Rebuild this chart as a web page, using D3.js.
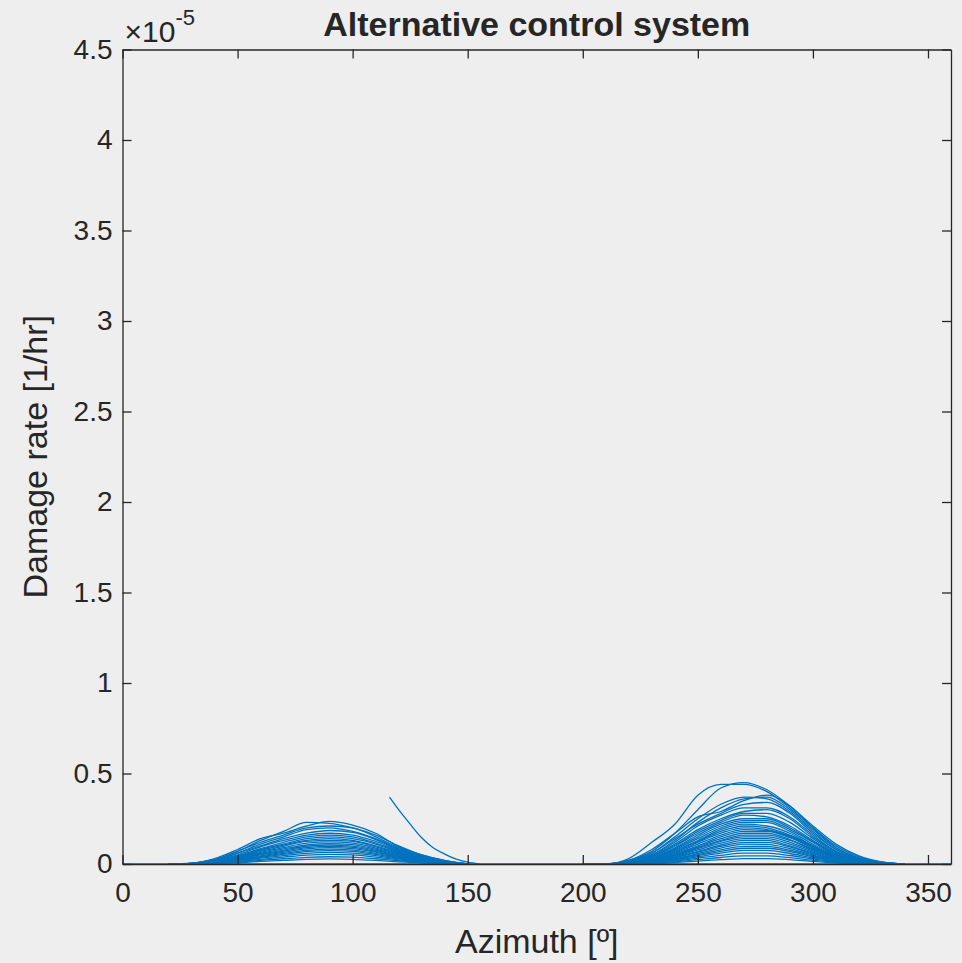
<!DOCTYPE html>
<html>
<head>
<meta charset="utf-8">
<script src="https://cdn.jsdelivr.net/npm/d3@7"></script>
<style>
  html, body { margin: 0; padding: 0; background: #eeeeee; }
  svg { display: block; }
  text { font-family: "Liberation Sans", Arial, sans-serif; fill: #262626; }
</style>
</head>
<body>
<div id="chart"></div>
<script>
// damage rate values are in units of 1e-5 [1/hr]
var xTicks = [0, 50, 100, 150, 200, 250, 300, 350];
var yTicks = [0, 0.5, 1, 1.5, 2, 2.5, 3, 3.5, 4, 4.5];

var zeroAz = [0, 360];
var zeroVal = [0, 0];

var leftAz = [20, 30, 40, 50, 60, 70, 80, 90, 100, 110, 120, 130, 140, 150];
var leftCurves = [
    [0, 0.004, 0.025, 0.07, 0.13, 0.18, 0.23, 0.225, 0.20, 0.16, 0.10, 0.05, 0.018, 0],
    [0, 0.005, 0.03, 0.08, 0.14, 0.17, 0.21, 0.235, 0.215, 0.17, 0.095, 0.05, 0.02, 0],
    [0, 0.004, 0.025, 0.07, 0.12, 0.16, 0.20, 0.21, 0.20, 0.15, 0.09, 0.045, 0.017, 0],
    [0, 0.003, 0.02, 0.06, 0.11, 0.15, 0.19, 0.20, 0.18, 0.14, 0.085, 0.042, 0.016, 0],
    [0, 0.003, 0.02, 0.06, 0.10, 0.14, 0.17, 0.185, 0.175, 0.135, 0.08, 0.04, 0.015, 0],
    [0, 0.003, 0.018, 0.05, 0.095, 0.13, 0.16, 0.17, 0.16, 0.125, 0.075, 0.037, 0.014, 0],
    [0, 0.002, 0.016, 0.045, 0.085, 0.12, 0.15, 0.16, 0.15, 0.115, 0.07, 0.034, 0.013, 0],
    [0, 0.002, 0.015, 0.04, 0.08, 0.11, 0.14, 0.15, 0.14, 0.11, 0.066, 0.032, 0.012, 0],
    [0, 0.002, 0.014, 0.04, 0.075, 0.105, 0.13, 0.14, 0.13, 0.10, 0.062, 0.03, 0.011, 0],
    [0, 0.002, 0.012, 0.036, 0.07, 0.098, 0.125, 0.13, 0.125, 0.095, 0.058, 0.028, 0.01, 0],
    [0, 0.002, 0.011, 0.033, 0.064, 0.09, 0.115, 0.122, 0.115, 0.088, 0.054, 0.026, 0.01, 0],
    [0, 0.001, 0.01, 0.03, 0.058, 0.083, 0.105, 0.113, 0.107, 0.082, 0.05, 0.024, 0.009, 0],
    [0, 0.001, 0.009, 0.028, 0.054, 0.077, 0.098, 0.105, 0.099, 0.076, 0.046, 0.022, 0.008, 0],
    [0, 0.001, 0.008, 0.025, 0.05, 0.071, 0.09, 0.097, 0.092, 0.07, 0.042, 0.02, 0.008, 0],
    [0, 0.001, 0.008, 0.023, 0.045, 0.065, 0.083, 0.09, 0.085, 0.065, 0.039, 0.019, 0.007, 0],
    [0, 0.001, 0.007, 0.021, 0.041, 0.059, 0.075, 0.082, 0.077, 0.059, 0.036, 0.017, 0.006, 0],
    [0, 0.001, 0.006, 0.019, 0.037, 0.053, 0.068, 0.074, 0.07, 0.053, 0.032, 0.015, 0.006, 0],
    [0, 0.001, 0.005, 0.016, 0.032, 0.046, 0.059, 0.064, 0.06, 0.046, 0.028, 0.013, 0.005, 0],
    [0, 0.001, 0.004, 0.013, 0.026, 0.038, 0.049, 0.053, 0.05, 0.038, 0.023, 0.011, 0.004, 0],
    [0, 0, 0.003, 0.01, 0.02, 0.029, 0.037, 0.04, 0.038, 0.029, 0.018, 0.008, 0.003, 0],
    [0, 0, 0.002, 0.007, 0.014, 0.02, 0.026, 0.028, 0.026, 0.02, 0.012, 0.006, 0.002, 0]
];

var tailAz = [116, 120, 125, 130, 135, 140, 145, 150, 155];
var tailVal = [0.37, 0.30, 0.22, 0.145, 0.09, 0.055, 0.027, 0.01, 0];

var rightAz = [200, 210, 220, 230, 240, 250, 260, 270, 280, 290, 300, 310, 320, 330, 340];
var rightCurves = [
    [0, 0, 0.03, 0.12, 0.22, 0.38, 0.44, 0.44, 0.40, 0.31, 0.20, 0.10, 0.04, 0.01, 0],
    [0, 0, 0.02, 0.07, 0.17, 0.30, 0.42, 0.45, 0.41, 0.32, 0.21, 0.11, 0.045, 0.012, 0],
    [0, 0, 0.02, 0.08, 0.17, 0.26, 0.29, 0.35, 0.38, 0.32, 0.20, 0.09, 0.035, 0.01, 0],
    [0, 0, 0.015, 0.06, 0.15, 0.25, 0.33, 0.37, 0.36, 0.29, 0.18, 0.08, 0.03, 0.008, 0],
    [0, 0, 0.01, 0.05, 0.13, 0.23, 0.31, 0.36, 0.37, 0.30, 0.19, 0.09, 0.03, 0.008, 0],
    [0, 0, 0.015, 0.06, 0.14, 0.22, 0.28, 0.33, 0.34, 0.28, 0.17, 0.08, 0.03, 0.007, 0],
    [0, 0, 0.01, 0.05, 0.12, 0.21, 0.27, 0.31, 0.31, 0.26, 0.16, 0.07, 0.025, 0.006, 0],
    [0, 0, 0.01, 0.045, 0.11, 0.19, 0.25, 0.29, 0.30, 0.25, 0.15, 0.07, 0.025, 0.006, 0],
    [0, 0, 0.01, 0.04, 0.10, 0.18, 0.24, 0.28, 0.28, 0.23, 0.14, 0.065, 0.022, 0.005, 0],
    [0, 0, 0.008, 0.04, 0.10, 0.17, 0.23, 0.27, 0.26, 0.21, 0.13, 0.06, 0.02, 0.005, 0],
    [0, 0, 0.008, 0.035, 0.09, 0.16, 0.22, 0.25, 0.25, 0.20, 0.125, 0.055, 0.02, 0.005, 0],
    [0, 0, 0.007, 0.03, 0.085, 0.15, 0.21, 0.24, 0.24, 0.19, 0.12, 0.05, 0.018, 0.004, 0],
    [0, 0, 0.007, 0.03, 0.08, 0.14, 0.20, 0.23, 0.23, 0.18, 0.11, 0.05, 0.017, 0.004, 0],
    [0, 0, 0.006, 0.028, 0.075, 0.13, 0.19, 0.22, 0.21, 0.17, 0.10, 0.045, 0.016, 0.004, 0],
    [0, 0, 0.006, 0.026, 0.07, 0.125, 0.18, 0.21, 0.20, 0.16, 0.10, 0.045, 0.015, 0.004, 0],
    [0, 0, 0.005, 0.024, 0.065, 0.12, 0.17, 0.20, 0.19, 0.155, 0.095, 0.04, 0.014, 0.003, 0],
    [0, 0, 0.005, 0.022, 0.06, 0.11, 0.16, 0.19, 0.185, 0.15, 0.09, 0.04, 0.013, 0.003, 0],
    [0, 0, 0.005, 0.02, 0.055, 0.10, 0.15, 0.18, 0.18, 0.145, 0.088, 0.038, 0.012, 0.003, 0],
    [0, 0, 0.004, 0.02, 0.05, 0.095, 0.14, 0.17, 0.17, 0.135, 0.082, 0.035, 0.012, 0.003, 0],
    [0, 0, 0.004, 0.018, 0.048, 0.09, 0.13, 0.16, 0.16, 0.13, 0.078, 0.034, 0.011, 0.003, 0],
    [0, 0, 0.004, 0.017, 0.045, 0.085, 0.125, 0.15, 0.15, 0.12, 0.072, 0.031, 0.01, 0.002, 0],
    [0, 0, 0.003, 0.015, 0.04, 0.078, 0.115, 0.14, 0.14, 0.11, 0.066, 0.028, 0.009, 0.002, 0],
    [0, 0, 0.003, 0.014, 0.037, 0.07, 0.105, 0.13, 0.13, 0.10, 0.06, 0.026, 0.008, 0.002, 0],
    [0, 0, 0.003, 0.013, 0.034, 0.065, 0.097, 0.12, 0.12, 0.094, 0.056, 0.024, 0.008, 0.002, 0],
    [0, 0, 0.002, 0.011, 0.03, 0.058, 0.088, 0.11, 0.108, 0.085, 0.05, 0.021, 0.007, 0.002, 0],
    [0, 0, 0.002, 0.01, 0.027, 0.052, 0.078, 0.097, 0.097, 0.076, 0.045, 0.019, 0.006, 0.001, 0],
    [0, 0, 0.002, 0.009, 0.024, 0.046, 0.07, 0.087, 0.087, 0.068, 0.04, 0.017, 0.005, 0.001, 0],
    [0, 0, 0.002, 0.008, 0.02, 0.04, 0.06, 0.075, 0.075, 0.058, 0.034, 0.014, 0.005, 0.001, 0],
    [0, 0, 0.001, 0.006, 0.016, 0.032, 0.048, 0.06, 0.06, 0.047, 0.028, 0.012, 0.004, 0.001, 0],
    [0, 0, 0.001, 0.005, 0.012, 0.024, 0.036, 0.045, 0.045, 0.035, 0.021, 0.009, 0.003, 0.001, 0],
    [0, 0, 0.001, 0.003, 0.008, 0.016, 0.024, 0.03, 0.03, 0.024, 0.014, 0.006, 0.002, 0, 0]
];

var W = 962, H = 963;
var plotLeft = 122.5, plotRight = 951, plotTop = 49.5, plotBottom = 864;
var lineColor = "#0072bd";
var axisColor = "#262626";

var svg = d3.select("#chart")
    .append("svg")
    .attr("width", W)
    .attr("height", H);

var x = d3.scaleLinear().domain([0, 360]).range([plotLeft, plotRight]);
var y = d3.scaleLinear().domain([0, 4.5]).range([plotBottom, plotTop]);

var line = d3.line()
    .x(d => x(d[0]))
    .y(d => y(d[1]))
    .curve(d3.curveMonotoneX);

function pairs(az, vals) {
    return az.map((a, i) => [a, vals[i]]);
}

var series = [pairs(zeroAz, zeroVal)];
leftCurves.forEach(c => series.push(pairs(leftAz, c)));
rightCurves.forEach(c => series.push(pairs(rightAz, c)));
series.push(pairs(tailAz, tailVal));

svg.append("g")
    .selectAll("path")
    .data(series)
    .join("path")
    .attr("fill", "none")
    .attr("stroke", lineColor)
    .attr("stroke-width", 1.3)
    .attr("d", line);

// axes, ticks pointing inward on all four sides
function styleAxis(g) {
    g.select(".domain").attr("stroke", axisColor).attr("stroke-width", 1.3);
    g.selectAll(".tick line").attr("stroke", axisColor).attr("stroke-width", 1.3);
    g.selectAll(".tick text")
        .attr("fill", axisColor)
        .attr("font-size", "28px")
        .attr("font-family", "Liberation Sans, Arial, sans-serif");
}

svg.append("g")
    .attr("transform", "translate(0," + plotBottom + ")")
    .call(d3.axisBottom(x).tickValues(xTicks).tickSizeInner(-9).tickSizeOuter(0).tickPadding(18))
    .call(styleAxis);

svg.append("g")
    .attr("transform", "translate(0," + plotTop + ")")
    .call(d3.axisTop(x).tickValues(xTicks).tickSizeInner(-9).tickSizeOuter(0).tickFormat(""))
    .call(styleAxis);

svg.append("g")
    .attr("transform", "translate(" + plotLeft + ",0)")
    .call(d3.axisLeft(y).tickValues(yTicks).tickSizeInner(-9).tickSizeOuter(0).tickPadding(10)
        .tickFormat(d3.format("~g")))
    .call(styleAxis);

svg.append("g")
    .attr("transform", "translate(" + plotRight + ",0)")
    .call(d3.axisRight(y).tickValues(yTicks).tickSizeInner(-9).tickSizeOuter(0).tickFormat(""))
    .call(styleAxis);

// exponent label
var expo = svg.append("text")
    .attr("x", plotLeft + 2)
    .attr("y", 42)
    .attr("font-size", "30px")
    .attr("fill", "#404040");
expo.append("tspan").text("\u00d710");
expo.append("tspan")
    .attr("dy", -17)
    .attr("font-size", "22px")
    .text("-5");

svg.append("text")
    .attr("x", (plotLeft + plotRight) / 2)
    .attr("y", 36)
    .attr("text-anchor", "middle")
    .attr("font-size", "34px")
    .attr("font-weight", "bold")
    .attr("fill", "#000")
    .text("Alternative control system");

svg.append("text")
    .attr("x", (plotLeft + plotRight) / 2)
    .attr("y", 953)
    .attr("text-anchor", "middle")
    .attr("font-size", "34px")
    .text("Azimuth [º]");

svg.append("text")
    .attr("transform", "translate(47," + (plotTop + plotBottom) / 2 + ") rotate(-90)")
    .attr("text-anchor", "middle")
    .attr("font-size", "34px")
    .text("Damage rate [1/hr]");
</script>
</body>
</html>
